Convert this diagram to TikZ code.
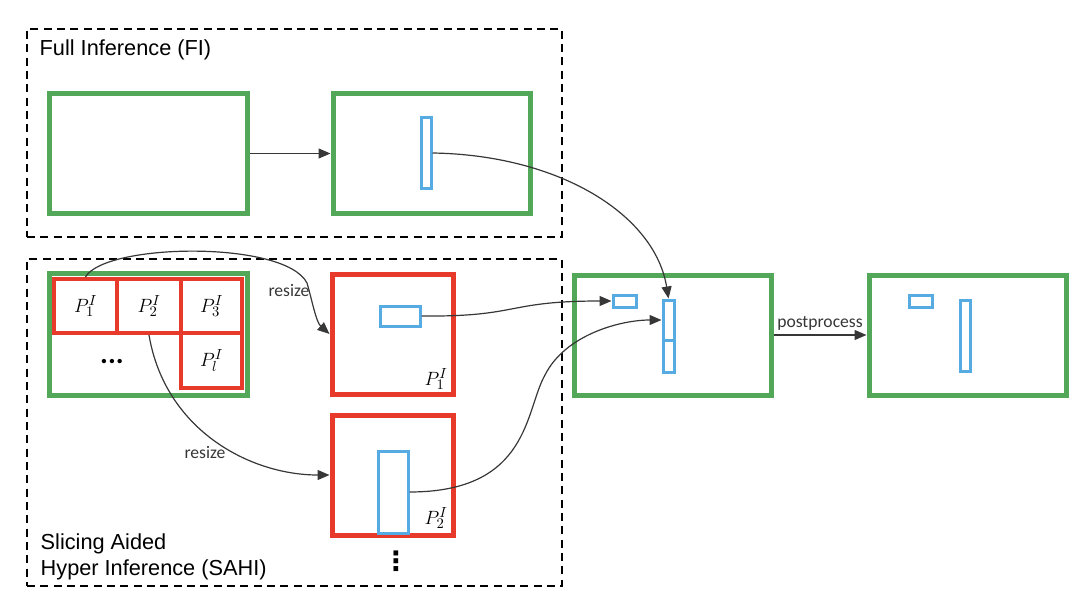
\documentclass[tikz,border=0pt]{standalone}
\usepackage{fontspec}
\setmainfont{Liberation Sans}
\newfontfamily\calibri{Carlito}
\newfontfamily\dejavu{DejaVu Sans}
\usetikzlibrary{arrows.meta,fit}
\definecolor{gr}{RGB}{82,168,88}
\definecolor{rd}{RGB}{232,58,42}
\definecolor{bl}{RGB}{86,172,226}
\definecolor{ln}{RGB}{55,55,55}
\begin{document}
\begin{tikzpicture}[x=0.75pt,y=-0.75pt,
  gbox/.style={draw=gr,line width=3.75pt,inner sep=0pt},
  rbox/.style={draw=rd,line width=3.75pt,inner sep=0pt},
  cbox/.style={draw=rd,line width=3pt,inner sep=0pt},
  bbox/.style={draw=bl,line width=2.25pt,inner sep=0pt},
  group/.style={draw=black,line width=1.9pt,dash pattern=on 6pt off 4pt},
  conn/.style={draw=ln,line width=0.9pt,-{Triangle[length=9pt,width=7.5pt]}},
  lbl/.style={font=\calibri\fontsize{13.2}{15}\selectfont,text=ln},
  ttl/.style={font=\fontsize{16.3}{19}\selectfont,anchor=base west},
  plbl/.style={font=\fontsize{15.5}{18}\selectfont,inner sep=0pt}]
\useasboundingbox (0,0) rectangle (1080,599);
% group frames
\node[group,inner sep=0pt,fit={(27,29)(562,237)}] (fi) {};
\node[group,inner sep=0pt,fit={(27,259)(562,586)}] (sahi) {};
\node[ttl] (fit) at (35,56) {Full Inference (FI)};
\node[ttl] (st1) at (36,549) {Slicing Aided};
\node[ttl] (st2) at (36,575) {Hyper Inference (SAHI)};
% FI
\node[gbox,fit={(49,94)(247,213)}] (fi1) {};
\node[gbox,fit={(333,94)(530,213)}] (fi2) {};
\node[bbox,fit={(421,118)(431,188)}] (fibar) {};
% SAHI input with slices
\node[gbox,fit={(49,273)(247,395)}] (sg) {};
\node[cbox,fit={(54,279)(117,333)}] (c1) {};
\node[cbox,fit={(117,279)(181,333)}] (c2) {};
\node[cbox,fit={(181,279)(242,333)}] (c3) {};
\node[cbox,fit={(181,333)(242,388)}] (cl) {};
\node[plbl] (l1) at (c1) {$P_1^I$};
\node[plbl] (l2) at (c2) {$P_2^I$};
\node[plbl] (l3) at (c3) {$P_3^I$};
\node[plbl] (ll) at (cl) {$P_l^I$};
\node[font=\calibri\bfseries\fontsize{22}{24}\selectfont,inner sep=0pt] (dots) at (112,362) {...};
% slices resized
\node[rbox,fit={(332,274)(453,394)}] (p1) {};
\node[bbox,fit={(380,306)(420,326)}] (p1r) {};
\node[plbl] (p1l) at (436,379) {$P_1^I$};
\node[rbox,fit={(332,415)(453,535)}] (p2) {};
\node[bbox,fit={(378,451)(408,533)}] (p2r) {};
\node[plbl] (p2l) at (436,518) {$P_2^I$};
\node[font=\dejavu\bfseries\fontsize{20}{22}\selectfont,inner sep=0pt] (vd) at (396,561) {⋮};
% combined
\node[gbox,fit={(574,275)(771,395)}] (cb) {};
\node[bbox,fit={(613,295)(636,307)}] (cbs) {};
\node[bbox,fit={(663,300)(674,340)}] (cb1) {};
\node[bbox,fit={(663,340)(674,372)}] (cb2) {};
% final
\node[gbox,fit={(869,275)(1066,395)}] (fb) {};
\node[bbox,fit={(909,295)(932,307)}] (fbs) {};
\node[bbox,fit={(960,300)(970,371)}] (fbb) {};
% connectors
\draw[conn] (fi1.east) -- (fi2.west);
\draw[conn] (fibar.east) .. controls (560,155) and (655,215) .. (cb1.north);
\draw[conn] (c1.north) .. controls (105,243) and (285,240) .. (307,283) .. controls (312,300) and (316,322) .. (p1.west);
\node[lbl] (rs1) at (289,291) {resize};
\draw[conn] (c2.south) .. controls (165,430) and (250,475) .. (p2.west);
\node[lbl] (rs2) at (205,453) {resize};
\draw[conn] (p1r.east) .. controls (520,317) and (505,301) .. (cbs.west);
\draw[conn] (p2r.east) .. controls (530,492) and (525,410) .. (545,375) .. controls (565,335) and (620,320) .. (cb1.west);
\draw[conn] (cb.east) -- node[lbl,above] (pp) {postprocess} (fb.west);
\end{tikzpicture}
\end{document}
